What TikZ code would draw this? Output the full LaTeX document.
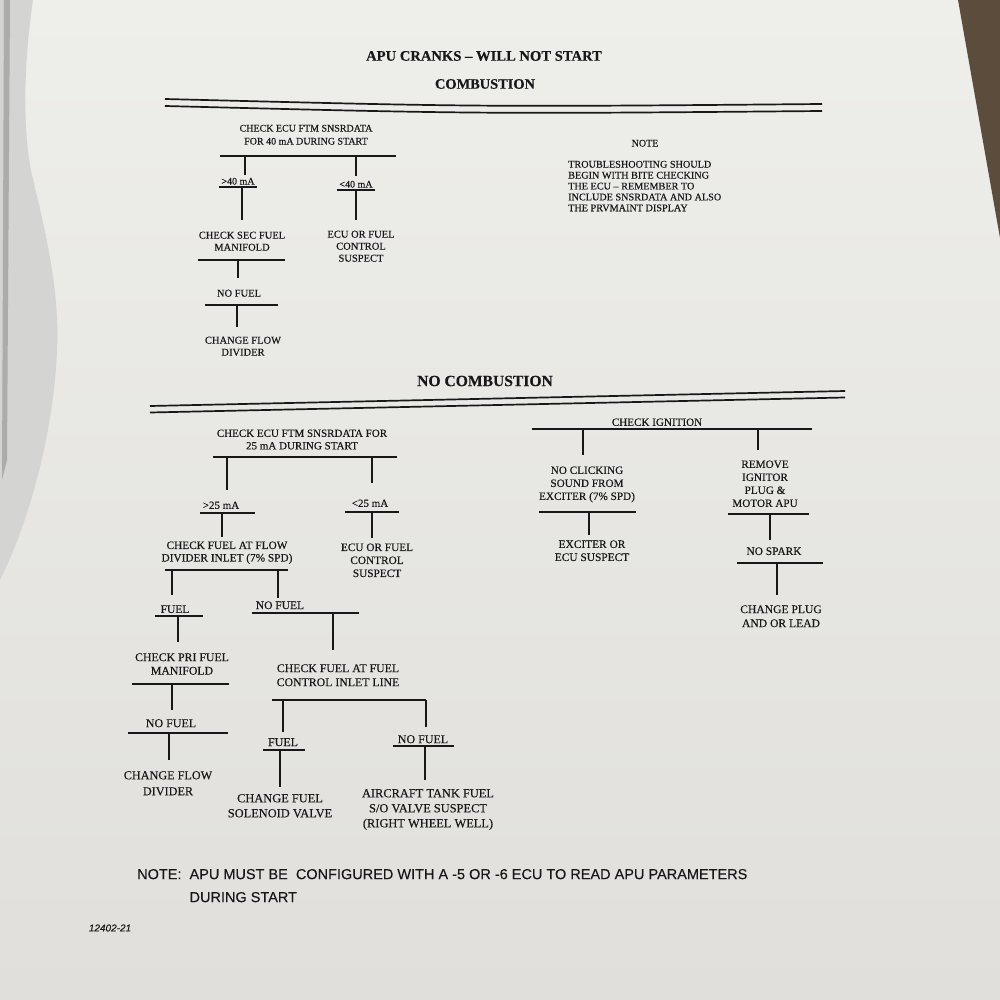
\documentclass[tikz,border=0pt]{standalone}
\usepackage{fontspec}
\setmainfont{Liberation Serif}[FakeBold=0.3]
\newfontfamily\notesans{Liberation Sans}[FakeBold=0.2]
\usetikzlibrary{calc}
\definecolor{paperA}{RGB}{238,238,235}
\definecolor{paperB}{RGB}{224,223,219}
\definecolor{ink}{RGB}{24,24,24}
\definecolor{edgegray}{RGB}{212,212,210}
\definecolor{edgedark}{RGB}{172,172,172}
\definecolor{tabletop}{RGB}{92,76,60}
\newcommand{\vtk}[4]{\draw[tk] ($(#2.north |- #1)+(#3,0)$) -- ($(#2.north)+(#3,-#4)$);}
\begin{document}
\begin{tikzpicture}[x=1pt,y=-1pt,
  lbl/.style={align=center,inner sep=0pt,anchor=north,text=ink},
  fs/.style 2 args={font=\fontsize{#1}{#2}\selectfont},
  ttl/.style={font=\bfseries\fontsize{#1}{#1}\selectfont,inner sep=0pt,text=ink},
  rl/.style={draw=ink,line width=1.6pt},
  tk/.style={draw=ink,line width=1.5pt},
  dbl/.style={draw=ink,line width=1.7pt}]
% ---------- page ----------
\path[use as bounding box] (0,0) rectangle (1000,1000);
\shade[top color=paperA,bottom color=paperB] (0,0) rectangle (1000,1000);
\fill[edgegray] (0,0) -- (33,0) .. controls (24,60) and (22,130) .. (32,175)
  .. controls (45,230) and (60,290) .. (57,350) .. controls (54,430) and (30,520) .. (0,580) -- cycle;
\fill[edgedark] (4,0) -- (10,0) -- (7,460) -- (2,480) -- cycle;
\fill[tabletop] (958,0) -- (1000,0) -- (1000,238) -- cycle;

% ---------- titles ----------
\node[ttl=14.6] (t1) at (484,56) {APU CRANKS -- WILL NOT START};
\node[ttl=14.4] (t2) at (485,84) {COMBUSTION};
\draw[dbl] (165,99) .. controls (480,107) .. (822,104);
\draw[dbl] (165,106) .. controls (480,114) .. (822,111);

% ---------- combustion tree ----------
\node[lbl,fs={10}{13}] (c1) at (306,124.7) {CHECK ECU FTM SNSRDATA\\FOR 40 mA DURING START};
\coordinate (c1a) at (220,156); \coordinate (c1b) at (396,156);
\draw[rl] (c1a) -- (c1b);
\node[lbl,fs={10}{12}] (c2) at (238,177.7) {>40 mA};
\coordinate (c2a) at (219,187); \coordinate (c2b) at (257,187);
\draw[rl] (c2a) -- (c2b);
\node[lbl,fs={10}{12}] (c3) at (356,180.7) {<40 mA};
\coordinate (c3a) at (337,190); \coordinate (c3b) at (375,190);
\draw[rl] (c3a) -- (c3b);
\node[lbl,fs={10.5}{12}] (c4) at (242,231.5) {CHECK SEC FUEL\\MANIFOLD};
\coordinate (c4a) at (198,260); \coordinate (c4b) at (285,260);
\draw[rl] (c4a) -- (c4b);
\node[lbl,fs={10.5}{12}] (c5) at (361,230.5) {ECU OR FUEL\\CONTROL\\SUSPECT};
\node[lbl,fs={10.5}{12}] (c6) at (239,289.5) {NO FUEL};
\coordinate (c6a) at (205,305); \coordinate (c6b) at (278,305);
\draw[rl] (c6a) -- (c6b);
\node[lbl,fs={10.5}{12}] (c7) at (243,336.5) {CHANGE FLOW\\DIVIDER};
\vtk{c1a}{c2}{7}{2.7}
\vtk{c1a}{c3}{0}{4.7}
\vtk{c2a}{c4}{0}{11.5}
\vtk{c3a}{c5}{-5}{10.5}
\vtk{c4a}{c6}{-1}{11.5}
\vtk{c6a}{c7}{-6}{9.5}

% ---------- note ----------
\node[lbl,fs={10}{11}] (nt) at (645,139.7) {NOTE};
\node[inner sep=0pt,anchor=north west,align=left,text=ink,fs={10.2}{10.9}] (ntb) at (568,160.7)
  {TROUBLESHOOTING SHOULD\\BEGIN WITH BITE CHECKING\\THE ECU -- REMEMBER TO\\INCLUDE SNSRDATA AND ALSO\\THE PRVMAINT DISPLAY};

% ---------- no combustion ----------
\node[ttl=15.6] (t3) at (485,381) {NO COMBUSTION};
\draw[dbl] (150,406) -- (845,391);
\draw[dbl] (150,412.5) -- (845,397.5);

\node[lbl,fs={11}{12.5}] (n1) at (302,429.4) {CHECK ECU FTM SNSRDATA FOR\\25 mA DURING START};
\coordinate (n1a) at (213,457); \coordinate (n1b) at (397,457);
\draw[rl] (n1a) -- (n1b);
\node[lbl,fs={11}{13}] (n2) at (221,501.4) {>25 mA};
\coordinate (n2a) at (200,513); \coordinate (n2b) at (255,513);
\draw[rl] (n2a) -- (n2b);
\node[lbl,fs={11}{13}] (n3) at (370,499.4) {<25 mA};
\coordinate (n3a) at (345,512); \coordinate (n3b) at (399,512);
\draw[rl] (n3a) -- (n3b);
\node[lbl,fs={11.3}{12.5}] (n4) at (227,541.3) {CHECK FUEL AT FLOW\\DIVIDER INLET (7\% SPD)};
\coordinate (n4a) at (165,570); \coordinate (n4b) at (288,570);
\draw[rl] (n4a) -- (n4b);
\node[lbl,fs={11.3}{13}] (n5) at (377,543.3) {ECU OR FUEL\\CONTROL\\SUSPECT};
\node[lbl,fs={11.5}{13}] (n6) at (175,605.2) {FUEL};
\coordinate (n6a) at (155,616); \coordinate (n6b) at (203,616);
\draw[rl] (n6a) -- (n6b);
\node[lbl,fs={11.5}{13}] (n7) at (280,601.2) {NO FUEL};
\coordinate (n7a) at (252,613); \coordinate (n7b) at (359,613);
\draw[rl] (n7a) -- (n7b);
\node[lbl,fs={11.8}{13.5}] (n8) at (182,653.1) {CHECK PRI FUEL\\MANIFOLD};
\coordinate (n8a) at (132,684); \coordinate (n8b) at (229,684);
\draw[rl] (n8a) -- (n8b);
\node[lbl,fs={11.8}{14}] (n9) at (338,664.1) {CHECK FUEL AT FUEL\\CONTROL INLET LINE};
\coordinate (n9a) at (272,700); \coordinate (n9b) at (426,700);
\draw[rl] (n9a) -- (n9b);
\node[lbl,fs={12}{14}] (n10) at (171,719) {NO FUEL};
\coordinate (n10a) at (128,733); \coordinate (n10b) at (228,733);
\draw[rl] (n10a) -- (n10b);
\node[lbl,fs={12.2}{16}] (n11) at (168,771) {CHANGE FLOW\\DIVIDER};
\node[lbl,fs={12}{14}] (n12) at (283,738) {FUEL};
\coordinate (n12a) at (263,750); \coordinate (n12b) at (305,750);
\draw[rl] (n12a) -- (n12b);
\node[lbl,fs={12}{14}] (n13) at (423,735) {NO FUEL};
\coordinate (n13a) at (393,746); \coordinate (n13b) at (454,746);
\draw[rl] (n13a) -- (n13b);
\node[lbl,fs={12.4}{15}] (n14) at (280,793.9) {CHANGE FUEL\\SOLENOID VALVE};
\node[lbl,fs={12.4}{15}] (n15) at (428,788.9) {AIRCRAFT TANK FUEL\\S/O VALVE SUSPECT\\(RIGHT WHEEL WELL)};
\vtk{n1a}{n2}{6}{11.4}
\vtk{n1a}{n3}{2}{16.4}
\vtk{n2a}{n4}{-5}{4.3}
\vtk{n3a}{n5}{-5}{5.3}
\vtk{n4a}{n6}{-3}{10.2}
\vtk{n4a}{n7}{-2}{3.2}
\vtk{n6a}{n8}{-4}{11.1}
\vtk{n7a}{n9}{-5}{14.1}
\vtk{n8a}{n10}{1}{9}
\vtk{n10a}{n11}{1}{11}
\vtk{n9a}{n12}{0}{6}
\vtk{n9a}{n13}{3}{8}
\vtk{n12a}{n14}{0}{6.9}
\vtk{n13a}{n15}{-3}{8.9}

% ---------- ignition ----------
\node[lbl,fs={11.1}{13}] (r1) at (657,418.3) {CHECK IGNITION};
\coordinate (r1a) at (532,429); \coordinate (r1b) at (812,429);
\draw[rl] (r1a) -- (r1b);
\node[lbl,fs={11.2}{13}] (r2) at (587,466.3) {NO CLICKING\\SOUND FROM\\EXCITER (7\% SPD)};
\coordinate (r2a) at (539,512); \coordinate (r2b) at (636,512);
\draw[rl] (r2a) -- (r2b);
\node[lbl,fs={11.2}{13}] (r3) at (765,460.3) {REMOVE\\IGNITOR\\PLUG \&\\MOTOR APU};
\coordinate (r3a) at (728,514); \coordinate (r3b) at (809,514);
\draw[rl] (r3a) -- (r3b);
\node[lbl,fs={11.4}{13}] (r4) at (592,540.2) {EXCITER OR\\ECU SUSPECT};
\node[lbl,fs={11.4}{13}] (r5) at (774,547.2) {NO SPARK};
\coordinate (r5a) at (737,563); \coordinate (r5b) at (823,563);
\draw[rl] (r5a) -- (r5b);
\node[lbl,fs={11.6}{14}] (r6) at (781,605.2) {CHANGE PLUG\\AND OR LEAD};
\vtk{r1a}{r2}{-4}{11.3}
\vtk{r1a}{r3}{-7}{10.3}
\vtk{r2a}{r4}{-3}{5.2}
\vtk{r3a}{r5}{-4}{7.2}
\vtk{r5a}{r6}{-4}{10.2}

% ---------- bottom note ----------
\node[inner sep=0pt,anchor=north west,align=left,text=ink,font=\notesans\fontsize{14.5}{23}\selectfont] (bn) at (137,868.8)
  {NOTE:\ \ APU MUST BE\ \ CONFIGURED WITH A -5 OR -6 ECU TO READ APU PARAMETERS\\\hphantom{NOTE:\ \ }DURING START};
\node[inner sep=0pt,text=ink,font=\notesans\itshape\fontsize{10}{10}\selectfont] (fig) at (110,928) {12402-21};
\end{tikzpicture}
\end{document}
